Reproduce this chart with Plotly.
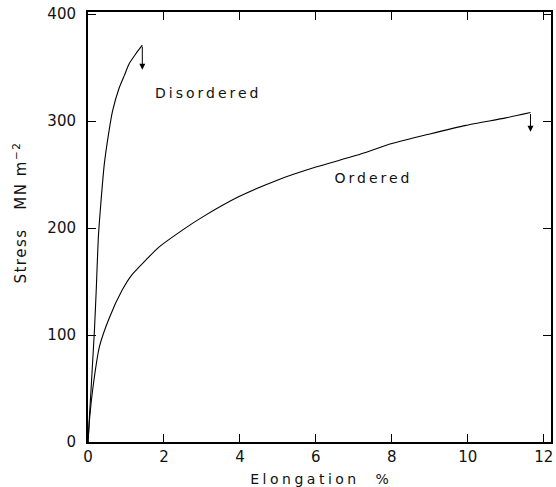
import plotly.graph_objects as go

# Disordered curve (elongation %, stress MN m^-2)
dis_x = [0, 0.04, 0.08, 0.13, 0.17, 0.22, 0.27, 0.32, 0.43, 0.55, 0.65, 0.82, 0.96, 1.09, 1.26, 1.43]
dis_y = [0, 25, 49, 80, 105, 145, 190, 215, 260, 290, 310, 331, 343, 354, 363, 371]

# Ordered curve
ord_x = [0, 0.05, 0.13, 0.30, 0.56, 0.90, 1.15, 1.52, 1.86, 2.4, 3.0, 3.95, 5.0, 6.0, 7.07, 8.0, 9.0, 9.95, 11.0, 11.65]
ord_y = [0, 25, 51, 89, 116, 142, 156, 170, 182, 196, 210, 229, 245, 257, 268, 279, 288, 296, 303, 308]

x_ticks = [0, 2, 4, 6, 8, 10, 12]
y_ticks = [0, 100, 200, 300, 400]

# fracture arrows: (x, from y, to y)
dis_arrow = (1.43, 371, 348)
ord_arrow = (11.65, 308, 290)

FONT = "DejaVu Sans, Liberation Sans, sans-serif"
INK = "#111"

fig = go.Figure()
fig.add_trace(go.Scatter(x=dis_x, y=dis_y, mode="lines",
                         line=dict(color="black", width=1.1, shape="spline", smoothing=0.6),
                         showlegend=False, hoverinfo="skip"))
fig.add_trace(go.Scatter(x=ord_x, y=ord_y, mode="lines",
                         line=dict(color="black", width=1.1, shape="spline", smoothing=0.6),
                         showlegend=False, hoverinfo="skip"))

annotations = []
for (ax_, y0, y1) in (dis_arrow, ord_arrow):
    annotations.append(dict(x=ax_, y=y1, ax=ax_, ay=y0, xref="x", yref="y", axref="x", ayref="y",
                            text="", showarrow=True, arrowhead=2, arrowsize=1.2, arrowwidth=1.0,
                            arrowcolor="black"))

annotations += [
    dict(x=3.16, y=326, xref="x", yref="y", text="Disordered", showarrow=False,
         font=dict(family=FONT, size=14, color=INK)),
    dict(x=7.52, y=247, xref="x", yref="y", text="Ordered", showarrow=False,
         font=dict(family=FONT, size=14, color=INK)),
    dict(x=0.505, y=-0.086, xref="paper", yref="paper", text="Elongation\u00a0\u00a0%", showarrow=False,
         xanchor="center", yanchor="middle", font=dict(family=FONT, size=14, color=INK)),
    dict(x=-0.148, y=0.533, xref="paper", yref="paper",
         text="Stress\u00a0\u00a0\u00a0MN m<sup>−2</sup>", showarrow=False,
         textangle=-90, xanchor="center", yanchor="middle", font=dict(family=FONT, size=15, color=INK)),
]

axis_common = dict(showgrid=False, zeroline=False, showline=True, linecolor="black", linewidth=2,
                   mirror="ticks", ticks="inside", ticklen=8, tickwidth=1.2, tickcolor="black",
                   tickfont=dict(family=FONT, size=15, color=INK))

fig.update_layout(
    width=556, height=487,
    margin=dict(l=88, r=3, t=12, b=45),
    paper_bgcolor="white", plot_bgcolor="white",
    xaxis=dict(range=[0, 12.19], tickvals=x_ticks, ticktext=[str(v) for v in x_ticks], **axis_common),
    yaxis=dict(range=[0, 402], tickvals=y_ticks, ticktext=[str(v) for v in y_ticks],
               ticklabelstandoff=7, **axis_common),
    annotations=annotations,
)

post = """
var fix = function(){
  document.body.style.margin = '0';
  document.body.style.padding = '0';
  document.querySelectorAll('text.annotation-text').forEach(function(t){
    var s = t.textContent || '';
    if (s.indexOf('Stress') === 0) { t.style.letterSpacing = '1.5px'; }
    else if (s.indexOf('Elongation') === 0) { t.style.letterSpacing = '3.5px'; }
    else if (s.length > 0) { t.style.letterSpacing = '3px'; }
  });
};
fix(); setTimeout(fix, 30);
"""

fig.write_html("out.html", post_script=post, config={"displayModeBar": False})
